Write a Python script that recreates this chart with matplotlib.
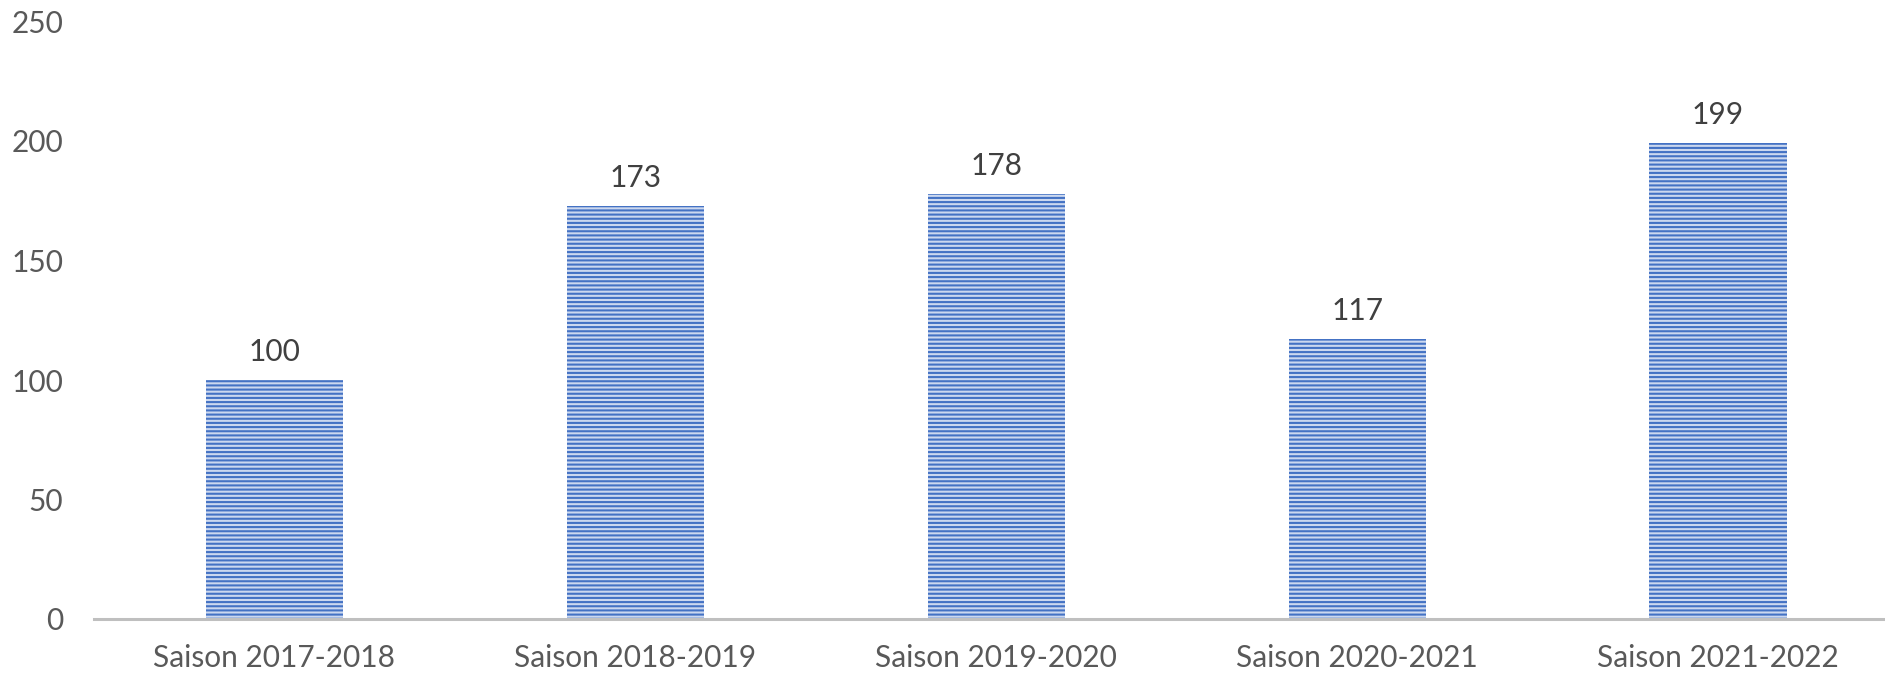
import numpy as np
import matplotlib
matplotlib.use("Agg")
import matplotlib.pyplot as plt

saisons = ["Saison 2017-2018", "Saison 2018-2019", "Saison 2019-2020",
           "Saison 2020-2021", "Saison 2021-2022"]
valeurs = [100, 173, 178, 117, 199]
yticks = [0, 50, 100, 150, 200, 250]

plt.rcParams['font.family'] = ['Lato', 'DejaVu Sans']
plt.rcParams['hatch.linewidth'] = 1.5

fig = plt.figure(figsize=(18.85, 6.74), dpi=100)
ax = fig.add_axes([94/1885, 55/674, 1 - 94/1885, (619-21.5)/674])

x = np.arange(len(saisons))
bars = ax.bar(x, valeurs, width=0.38, color='#CCD8EF', edgecolor='#4472C4',
              linewidth=0, hatch='----')

# etiquettes des valeurs au-dessus des barres
for xi, v in zip(x, valeurs):
    ax.annotate(str(v), (xi, v), xytext=(0, 28), textcoords='offset pixels',
                ha='center', va='center', fontsize=21.5, color='#404040')

ax.set_ylim(0, 250)
ax.set_xlim(-0.5, (1885 - 274) / 361)
ax.set_yticks(yticks)
ax.set_xticks(x)
ax.set_xticklabels(saisons)
ax.tick_params(axis='both', length=0, labelsize=21.5, colors='#595959')
ax.tick_params(axis='y', pad=22)
ax.tick_params(axis='x', pad=18)

for s in ['top', 'right', 'left']:
    ax.spines[s].set_visible(False)
ax.spines['bottom'].set_color('#BFBFBF')
ax.spines['bottom'].set_linewidth(2.2)

fig.savefig("out.png", dpi=100)
